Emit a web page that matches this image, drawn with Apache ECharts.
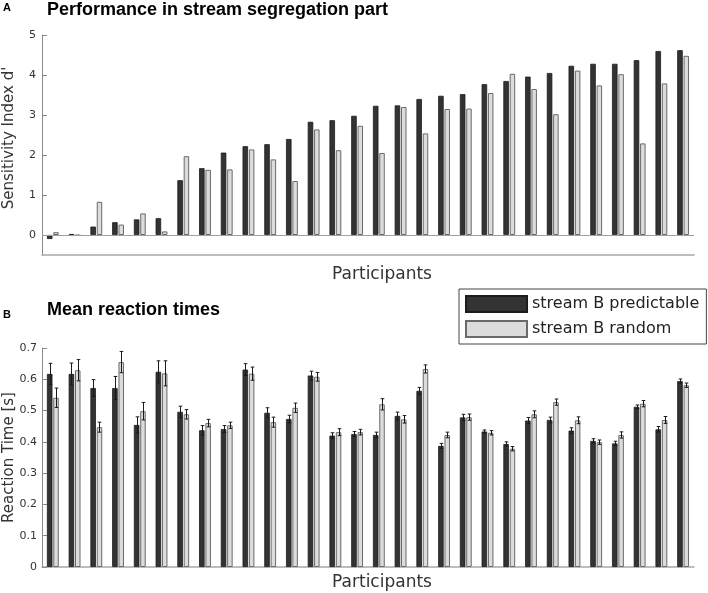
<!DOCTYPE html>
<html><head><meta charset="utf-8">
<script src="https://cdn.jsdelivr.net/npm/echarts@6/dist/echarts.min.js"></script>
<style>html,body{margin:0;padding:0;background:#fff}#c{width:708px;height:593px}</style>
</head><body><div id="c"></div>
<script>
const participants = ['P1','P2','P3','P4','P5','P6','P7','P8','P9','P10','P11','P12','P13','P14','P15','P16','P17','P18','P19','P20','P21','P22','P23','P24','P25','P26','P27','P28','P29','P30'];
const seriesNames = ['stream B predictable', 'stream B random'];
const dPrimePredictable = [-0.1, 0.025, 0.21, 0.32, 0.39, 0.42, 1.37, 1.67, 2.06, 2.22, 2.27, 2.4, 2.83, 2.87, 2.98, 3.23, 3.24, 3.4, 3.48, 3.52, 3.77, 3.85, 3.96, 4.05, 4.23, 4.28, 4.28, 4.37, 4.6, 4.62];
const dPrimeRandom = [0.07, -0.01, 0.83, 0.26, 0.54, 0.09, 1.97, 1.63, 1.64, 2.14, 1.89, 1.35, 2.64, 2.12, 2.73, 2.05, 3.2, 2.54, 3.15, 3.16, 3.55, 4.03, 3.65, 3.02, 4.11, 3.74, 4.02, 2.29, 3.79, 4.48];
const rtPredictable = [0.617, 0.617, 0.572, 0.572, 0.454, 0.624, 0.496, 0.437, 0.441, 0.631, 0.493, 0.473, 0.612, 0.42, 0.425, 0.422, 0.483, 0.563, 0.387, 0.478, 0.433, 0.393, 0.468, 0.47, 0.436, 0.403, 0.395, 0.512, 0.44, 0.594];
const rtErrPredictable = [0.034, 0.035, 0.027, 0.037, 0.026, 0.035, 0.018, 0.015, 0.011, 0.019, 0.016, 0.012, 0.014, 0.009, 0.008, 0.009, 0.012, 0.011, 0.008, 0.01, 0.005, 0.007, 0.01, 0.009, 0.009, 0.007, 0.007, 0.006, 0.009, 0.007];
const rtRandom = [0.541, 0.629, 0.447, 0.655, 0.498, 0.619, 0.488, 0.46, 0.453, 0.618, 0.463, 0.509, 0.608, 0.431, 0.431, 0.52, 0.472, 0.633, 0.422, 0.479, 0.429, 0.378, 0.488, 0.527, 0.469, 0.399, 0.422, 0.522, 0.47, 0.581];
const rtErrRandom = [0.031, 0.034, 0.016, 0.034, 0.028, 0.04, 0.015, 0.012, 0.01, 0.021, 0.016, 0.015, 0.014, 0.011, 0.009, 0.018, 0.012, 0.013, 0.009, 0.01, 0.007, 0.007, 0.011, 0.01, 0.011, 0.007, 0.01, 0.01, 0.011, 0.007];
const dPrimeTicks = [0, 1, 2, 3, 4, 5];
const rtTicks = [0, 0.1, 0.2, 0.3, 0.4, 0.5, 0.6, 0.7];

const BAR_W = 5.5;
const BAR_GAP = 0.15;
const OFF = (BAR_W + BAR_W * BAR_GAP) / 2;
const FONT = 'DejaVu Sans';
const darkStyle = {color: '#333333', borderColor: '#1c1c1c', borderWidth: 0.8};
const lightStyle = {color: '#dcdcdc', borderColor: '#6a6a6a', borderWidth: 1};

function errorSeries(values, errs, offset) {
  return {
    type: 'custom', xAxisIndex: 1, yAxisIndex: 1, silent: true, z: 5,
    data: values.map((v, i) => [i, v, errs[i]]),
    encode: {x: 0, y: 1},
    renderItem(params, api) {
      const i = api.value(0), v = api.value(1), e = api.value(2);
      const hi = api.coord([i, v + e]);
      const lo = api.coord([i, v - e]);
      const x = Math.round(hi[0] + offset) + 0.5;
      const cap = 1.8;
      const style = {stroke: '#1a1a1a', lineWidth: 1};
      return {type: 'group', children: [
        {type: 'line', shape: {x1: x, y1: hi[1], x2: x, y2: lo[1]}, style},
        {type: 'line', shape: {x1: x - cap, y1: hi[1], x2: x + cap, y2: hi[1]}, style},
        {type: 'line', shape: {x1: x - cap, y1: lo[1], x2: x + cap, y2: lo[1]}, style}
      ]};
    }
  };
}

const xAxisCommon = (gridIndex, gap) => ({
  type: 'category', gridIndex, data: participants,
  axisLabel: {show: false}, axisTick: {show: false},
  axisLine: {onZero: false, lineStyle: {color: '#a8a8a8', width: 1.5}},
  name: 'Participants', nameLocation: 'middle', nameGap: gap, nameMoveOverlap: false,
  nameTextStyle: {fontFamily: FONT, fontSize: 17, color: '#333', padding: [0, 0, 0, 28]}
});

const chart = echarts.init(document.getElementById('c'), null, {renderer: 'canvas'});
chart.setOption({
  animation: false,
  backgroundColor: '#fff',
  title: [
    {text: 'A', left: 3, top: 2, padding: 0, textStyle: {fontFamily: 'Liberation Sans', fontSize: 11, fontWeight: 'bold', color: '#000'}},
    {text: 'Performance in stream segregation part', left: 47, top: 1, padding: 0, textStyle: {fontFamily: 'Liberation Sans', fontSize: 18, fontWeight: 'bold', color: '#000'}},
    {text: 'B', left: 3, top: 309, padding: 0, textStyle: {fontFamily: 'Liberation Sans', fontSize: 11, fontWeight: 'bold', color: '#000'}},
    {text: 'Mean reaction times', left: 47, top: 301, padding: 0, textStyle: {fontFamily: 'Liberation Sans', fontSize: 18, fontWeight: 'bold', color: '#000'}}
  ],
  legend: {
    data: seriesNames, orient: 'vertical', left: 459, top: 289,
    itemWidth: 61, itemHeight: 16, itemGap: 7, itemTextGap: 5,
    padding: [6, 7, 6, 6], borderColor: '#444', borderWidth: 1, backgroundColor: '#fff',
    icon: 'rect', selectedMode: false,
    textStyle: {fontFamily: FONT, fontSize: 16, color: '#222', lineHeight: 16}
  },
  grid: [
    {left: 42, right: 14, top: 35, height: 220, outerBoundsMode: 'none', containLabel: false},
    {left: 42, right: 14, top: 348, height: 219, outerBoundsMode: 'none', containLabel: false}
  ],
  xAxis: [xAxisCommon(0, 11), xAxisCommon(1, 7)],
  yAxis: [
    {type: 'value', gridIndex: 0, min: -0.5, max: 5, interval: 0.5,
     splitLine: {show: false},
     axisLine: {show: true, lineStyle: {color: '#8a8a8a', width: 1}},
     axisTick: {show: true, inside: true, length: 5, customValues: dPrimeTicks, lineStyle: {color: '#8a8a8a'}},
     axisLabel: {customValues: dPrimeTicks, margin: 6, fontFamily: FONT, fontSize: 11, color: '#333'},
     name: "Sensitivity Index d'", nameLocation: 'middle', nameGap: 25, nameMoveOverlap: false,
     nameTextStyle: {fontFamily: FONT, fontSize: 15, color: '#333', padding: [0, 0, 0, 14]}},
    {type: 'value', gridIndex: 1, min: 0, max: 0.7, interval: 0.1,
     splitLine: {show: false},
     axisLine: {show: true, lineStyle: {color: '#8a8a8a', width: 1}},
     axisTick: {show: true, inside: true, length: 5, lineStyle: {color: '#8a8a8a'}},
     axisLabel: {margin: 5, fontFamily: FONT, fontSize: 11, color: '#333',
       formatter: v => v === 0 ? '0' : v.toFixed(1)},
     name: 'Reaction Time [s]', nameLocation: 'middle', nameGap: 25, nameMoveOverlap: false,
     nameTextStyle: {fontFamily: FONT, fontSize: 15, color: '#333'}}
  ],
  series: [
    {name: seriesNames[0], type: 'bar', xAxisIndex: 0, yAxisIndex: 0, data: dPrimePredictable,
     barWidth: BAR_W, barGap: (BAR_GAP * 100) + '%', itemStyle: darkStyle,
     markLine: {silent: true, symbol: 'none', label: {show: false}, animation: false,
       lineStyle: {color: '#a0a0a0', width: 1.2, type: 'solid'}, data: [{yAxis: 0}]}},
    {name: seriesNames[1], type: 'bar', xAxisIndex: 0, yAxisIndex: 0, data: dPrimeRandom,
     barWidth: BAR_W, barGap: (BAR_GAP * 100) + '%', itemStyle: lightStyle},
    {name: seriesNames[0], type: 'bar', xAxisIndex: 1, yAxisIndex: 1, data: rtPredictable,
     barWidth: BAR_W, barGap: (BAR_GAP * 100) + '%', itemStyle: darkStyle},
    {name: seriesNames[1], type: 'bar', xAxisIndex: 1, yAxisIndex: 1, data: rtRandom,
     barWidth: BAR_W, barGap: (BAR_GAP * 100) + '%', itemStyle: lightStyle},
    errorSeries(rtPredictable, rtErrPredictable, -OFF),
    errorSeries(rtRandom, rtErrRandom, OFF)
  ]
});
</script></body></html>
